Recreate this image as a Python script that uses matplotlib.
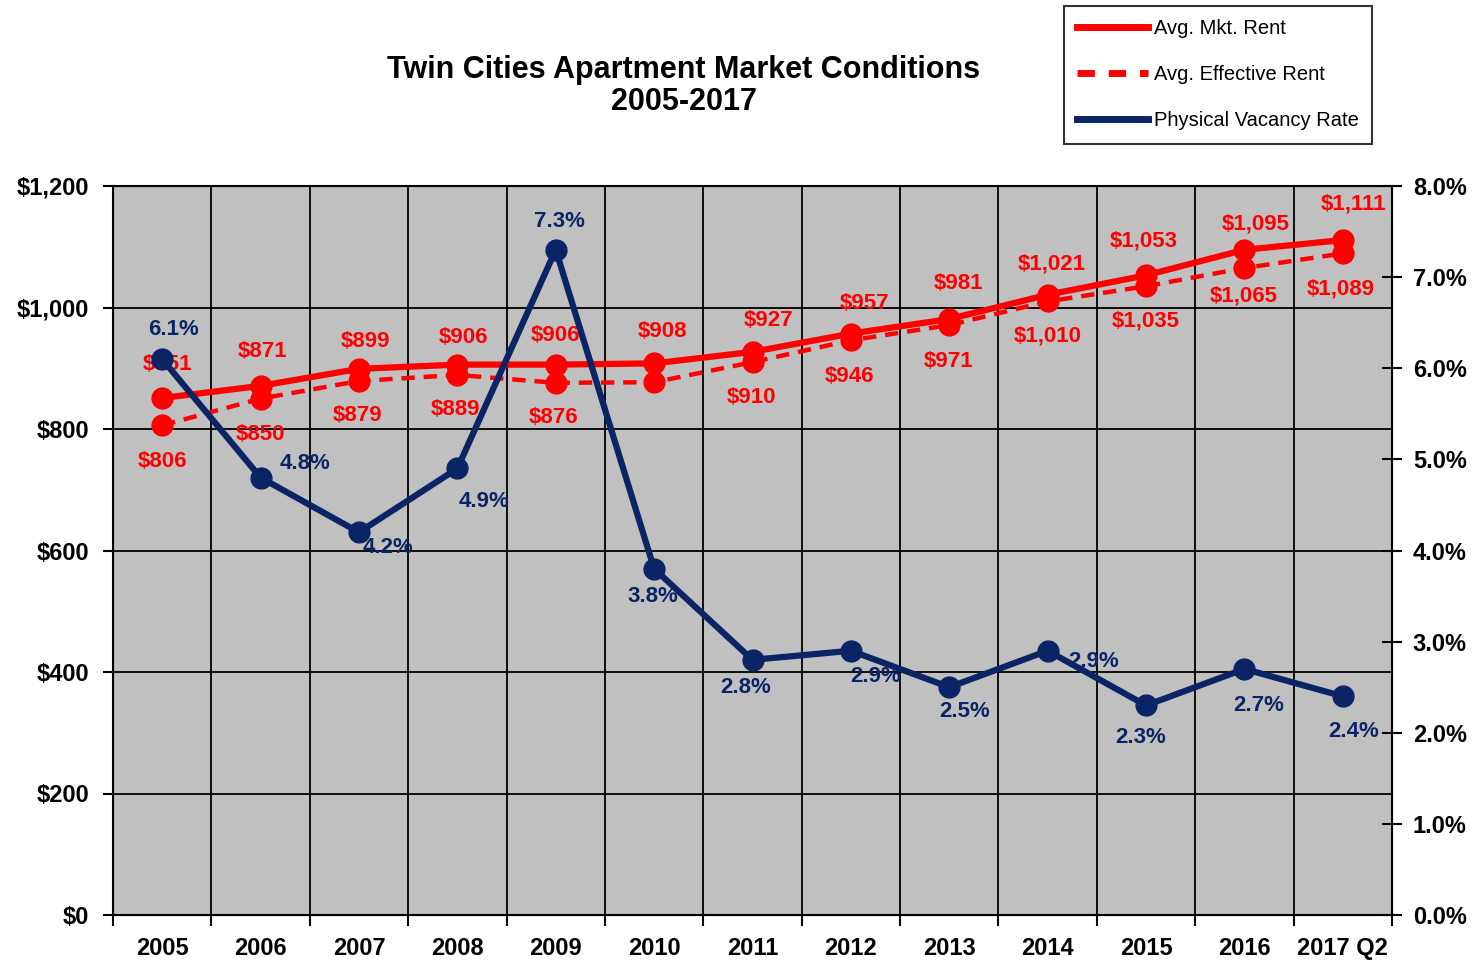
import numpy as np
import matplotlib.pyplot as plt
from matplotlib.ticker import FuncFormatter, MultipleLocator

plt.rcParams['font.family'] = ['Liberation Sans', 'DejaVu Sans']

years = ["2005", "2006", "2007", "2008", "2009", "2010", "2011",
         "2012", "2013", "2014", "2015", "2016", "2017 Q2"]
mkt_rent = [851, 871, 899, 906, 906, 908, 927, 957, 981, 1021, 1053, 1095, 1111]
eff_rent = [806, 850, 879, 889, 876, 877, 910, 946, 971, 1010, 1035, 1065, 1089]
vacancy = [6.1, 4.8, 4.2, 4.9, 7.3, 3.8, 2.8, 2.9, 2.5, 2.9, 2.3, 2.7, 2.4]

# label offsets in pixels (dx, dy up positive)
mkt_off = [(5, 34), (2, 34), (7, 27), (6, 27), (0, 29), (8, 32), (16, 31),
           (14, 30), (9, 36), (4, 31), (-2, 34), (11, 26), (11, 36)]
eff_off = [(0, -36), (0, -36), (-1, -34), (-2, -35), (-2, -35), None, (-1, -35),
           (-1, -36), (-1, -36), (0, -35), (0, -35), (-1, -28), (-2, -36)]
vac_off = [(11, 30), (44, 14), (29, -15), (27, -33), (4, 28), (-1, -28), (-7, -28),
           (25, -26), (15, -24), (46, -11), (-5, -32), (14, -37), (11, -35)]

RED = '#FF0000'
NAVY = '#0A2466'
PX = 0.72
FS = 16

fig = plt.figure(figsize=(14.8, 9.61), dpi=100)
ax = fig.add_axes([113 / 1480, 46 / 961, 1279 / 1480, 729 / 961])
ax.set_facecolor('#C0C0C0')
x = np.arange(len(years))

l1, = ax.plot(x, mkt_rent, color=RED, lw=4.5, marker='o', ms=15, zorder=4)
l2, = ax.plot(x, eff_rent, color=RED, lw=3.2, ls=(0, (3, 2)), marker='o', ms=15, zorder=3)
ax.set_xlim(-0.5, len(years) - 0.5)
ax.set_ylim(0, 1200)
ax.yaxis.set_major_locator(MultipleLocator(200))
ax.yaxis.set_major_formatter(FuncFormatter(lambda v, p: "${:,.0f}".format(v)))
ax.set_xticks(x)
ax.set_xticklabels(years)
ax.set_xticks(np.arange(-0.5, len(years)), minor=True)
ax.tick_params(axis='x', which='major', length=0, pad=16)
ax.tick_params(axis='x', which='minor', length=8, width=1.5, direction='out')
ax.tick_params(axis='y', length=7, width=1.5, direction='out', pad=10)
for lab in ax.get_xticklabels() + ax.get_yticklabels():
    lab.set_fontsize(17)
    lab.set_fontweight('bold')
ax.grid(axis='y', color='black', lw=1.3)
ax.grid(axis='x', which='minor', color='black', lw=1.3)
ax.set_axisbelow(True)
for s in ax.spines.values():
    s.set_linewidth(1.5)

for i in range(len(years)):
    dx, dy = mkt_off[i]
    ax.annotate("${:,}".format(mkt_rent[i]), (x[i], mkt_rent[i]), xytext=(dx * PX, dy * PX),
                textcoords='offset points', ha='center', va='center', color=RED,
                fontsize=FS, fontweight='bold', zorder=6)
    if eff_off[i] is not None:
        dx, dy = eff_off[i]
        ax.annotate("${:,}".format(eff_rent[i]), (x[i], eff_rent[i]), xytext=(dx * PX, dy * PX),
                    textcoords='offset points', ha='center', va='center', color=RED,
                    fontsize=FS, fontweight='bold', zorder=6)

ax2 = ax.twinx()
l3, = ax2.plot(x, vacancy, color=NAVY, lw=4.5, marker='o', ms=15, zorder=5)
ax2.set_ylim(0, 8)
ax2.yaxis.set_major_locator(MultipleLocator(1))
ax2.yaxis.set_major_formatter(FuncFormatter(lambda v, p: "{:.1f}%".format(v)))
ax2.tick_params(axis='y', length=14, width=1.5, direction='inout', pad=8)
for lab in ax2.get_yticklabels():
    lab.set_fontsize(17)
    lab.set_fontweight('bold')
for i in range(len(years)):
    dx, dy = vac_off[i]
    ax2.annotate("{:.1f}%".format(vacancy[i]), (x[i], vacancy[i]), xytext=(dx * PX, dy * PX),
                 textcoords='offset points', ha='center', va='center', color=NAVY,
                 fontsize=FS, fontweight='bold', zorder=6)

fig.text(684 / 1480, 1 - 86 / 961, "Twin Cities Apartment Market Conditions\n2005-2017",
         ha='center', va='center', fontsize=22, fontweight='bold', linespacing=1.12)

leg = fig.legend([l1, l2, l3], ["Avg. Mkt. Rent", "Avg. Effective Rent", "Physical Vacancy Rate"],
                 loc='upper left', bbox_to_anchor=(1064 / 1480, 1 - 6 / 961),
                 fontsize=14.5, frameon=True, fancybox=False, edgecolor='black',
                 handlelength=3.5, handletextpad=0.3, labelspacing=1.35,
                 markerscale=0.01, borderpad=0.65, borderaxespad=0)
leg.get_frame().set_linewidth(1.5)
for h in leg.get_lines():
    h.set_linewidth(5)
leg.get_lines()[1].set_linestyle((0, (2.5, 2)))

fig.savefig("out.png", dpi=100)
